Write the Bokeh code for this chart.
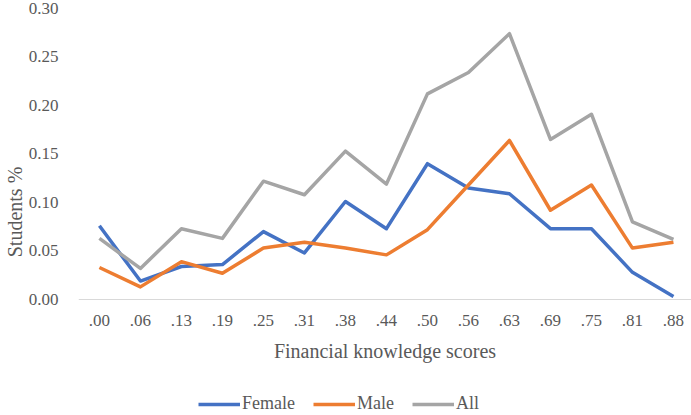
from bokeh.plotting import figure
from bokeh.models import Legend, LegendItem, FixedTicker, Range1d, ColumnDataSource
from bokeh.embed import file_html
from bokeh.resources import INLINE

categories = [".00", ".06", ".13", ".19", ".25", ".31", ".38", ".44",
              ".50", ".56", ".63", ".69", ".75", ".81", ".88"]
female = [0.076, 0.019, 0.034, 0.036, 0.070, 0.048, 0.101, 0.073,
          0.140, 0.115, 0.109, 0.073, 0.073, 0.028, 0.003]
male = [0.033, 0.013, 0.039, 0.027, 0.053, 0.059, 0.053, 0.046,
        0.072, 0.118, 0.164, 0.092, 0.118, 0.053, 0.059]
all_students = [0.063, 0.032, 0.073, 0.063, 0.122, 0.108, 0.153, 0.119,
                0.212, 0.234, 0.274, 0.165, 0.191, 0.080, 0.062]
y_ticks = [0.00, 0.05, 0.10, 0.15, 0.20, 0.25, 0.30]

idx = list(range(len(categories)))
src = ColumnDataSource(dict(x=idx, female=female, male=male, all=all_students))

FONT = "Liberation Serif"
TXT = "#595959"

p = figure(width=691, height=415, output_backend="svg", toolbar_location=None,
           x_range=Range1d(-0.51, 14.44), y_range=Range1d(-0.1196, 0.30),
           min_border_top=8, min_border_left=76, min_border_right=0,
           min_border_bottom=0)
p.outline_line_color = None
p.grid.visible = False

r_f = p.line("x", "female", source=src, line_color="#4472C4", line_width=3.5, line_join="round")
r_m = p.line("x", "male", source=src, line_color="#ED7D31", line_width=3.5, line_join="round")
r_a = p.line("x", "all", source=src, line_color="#A5A5A5", line_width=3.5, line_join="round")

xa = p.xaxis[0]
xa.fixed_location = 0
xa.ticker = FixedTicker(ticks=idx)
xa.major_label_overrides = {i: c for i, c in zip(idx, categories)}
xa.major_tick_line_color = None
xa.minor_tick_line_color = None
xa.axis_line_color = "#D9D9D9"
xa.axis_line_width = 1
xa.major_label_standoff = 10
xa.major_label_text_font = FONT
xa.major_label_text_font_size = "17px"
xa.major_label_text_color = TXT
xa.axis_label = "Financial knowledge scores"
xa.axis_label_text_font = FONT
xa.axis_label_text_font_size = "20px"
xa.axis_label_text_font_style = "normal"
xa.axis_label_text_color = TXT
xa.axis_label_standoff = 10

ya = p.yaxis[0]
ya.bounds = (0, 0.30)
ya.ticker = FixedTicker(ticks=y_ticks)
ya.major_label_overrides = {t: f"{t:.2f}" for t in y_ticks}
ya.major_tick_line_color = None
ya.minor_tick_line_color = None
ya.axis_line_color = None
ya.major_label_standoff = 14
ya.major_label_text_font = FONT
ya.major_label_text_font_size = "17px"
ya.major_label_text_color = TXT
ya.axis_label = "Students %"
ya.axis_label_text_font = FONT
ya.axis_label_text_font_size = "20px"
ya.axis_label_text_font_style = "normal"
ya.axis_label_text_color = TXT
ya.axis_label_standoff = 0

legend = Legend(items=[LegendItem(label="Female", renderers=[r_f]),
                       LegendItem(label="Male", renderers=[r_m]),
                       LegendItem(label="All", renderers=[r_a])],
                orientation="horizontal", location=(120, 1),
                padding=0, margin=0, spacing=18, label_standoff=2,
                glyph_width=42, glyph_height=20, label_height=20,
                label_text_font=FONT, label_text_font_size="18px",
                label_text_color=TXT, border_line_color=None,
                background_fill_alpha=0)
p.add_layout(legend, "center")

open("out.html", "w").write(file_html(p, INLINE))
